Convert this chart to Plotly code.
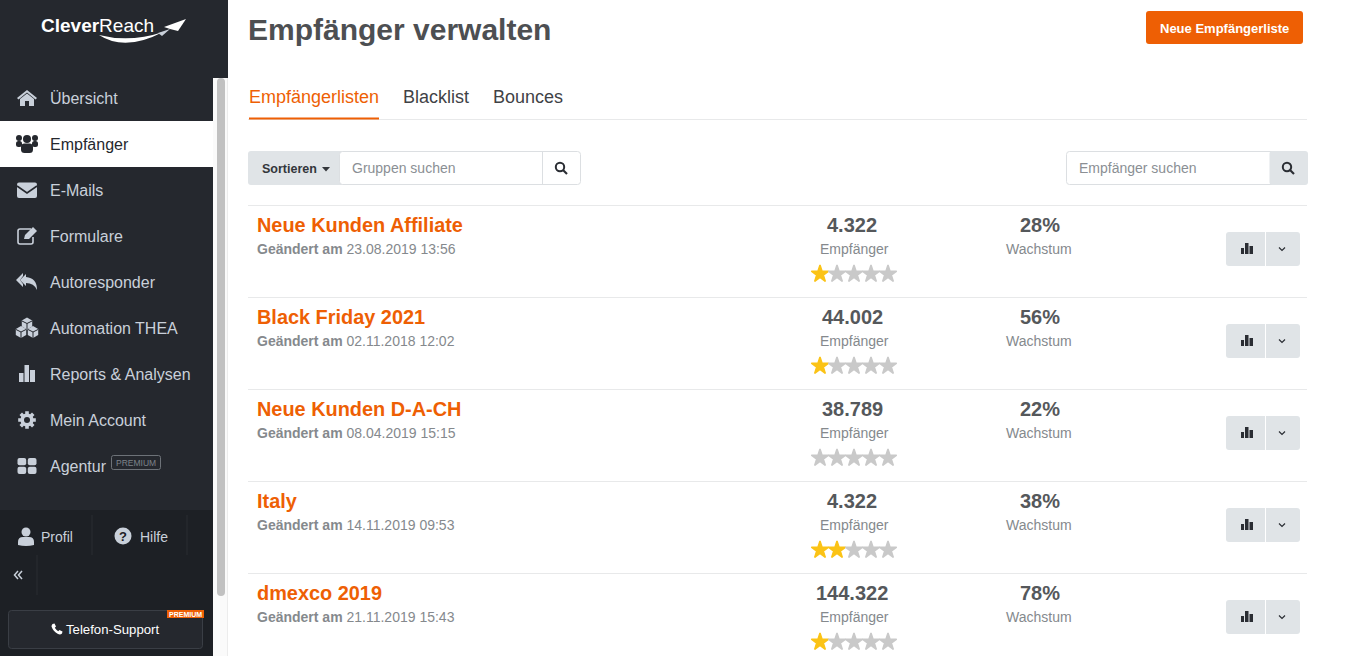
"""CleverReach recipient list screen rebuilt with Plotly shapes, text and markers."""

import math

import plotly.graph_objects as go

FONT = "Liberation Sans"
ORANGE = "#ee5f04"
DARK = "#25282e"
DARKER = "#1d2025"
NAV_TEXT = "#c9d0da"
GREY_BTN = "#e0e4e7"
BORDER = "#e8e9ea"
STAR_ON = "#fbc316"
STAR_OFF = "#c9c9c9"

# list data
list_names = ["Neue Kunden Affiliate", "Black Friday 2021", "Neue Kunden D-A-CH", "Italy", "dmexco 2019"]
changed_dates = ["23.08.2019 13:56", "02.11.2018 12:02", "08.04.2019 15:15", "14.11.2019 09:53", "21.11.2019 15:43"]
recipients = ["4.322", "44.002", "38.789", "4.322", "144.322"]
growth = ["28%", "56%", "22%", "38%", "78%"]
stars = [1, 1, 0, 2, 1]

nav_items = ["Übersicht", "Empfänger", "E-Mails", "Formulare", "Autoresponder",
             "Automation THEA", "Reports & Analysen", "Mein Account", "Agentur"]
tabs = ["Empfängerlisten", "Blacklist", "Bounces"]
tab_x = [248, 401.5, 492]

shapes = []
annotations = []


def rect(x0, y0, x1, y1, fill, line=None, width=1):
    shapes.append(dict(type="rect", x0=x0, y0=y0, x1=x1, y1=y1, fillcolor=fill,
                       line=dict(color=line or fill, width=width if line else 0)))


def rrect_path(x0, y0, x1, y1, r):
    return (f"M{x0+r},{y0} L{x1-r},{y0} Q{x1},{y0} {x1},{y0+r} L{x1},{y1-r} Q{x1},{y1} {x1-r},{y1} "
            f"L{x0+r},{y1} Q{x0},{y1} {x0},{y1-r} L{x0},{y0+r} Q{x0},{y0} {x0+r},{y0} Z")


def rrect(x0, y0, x1, y1, r, fill, line=None, width=1):
    path(rrect_path(x0, y0, x1, y1, r), fill, line, width)


def path(d, fill="rgba(0,0,0,0)", line=None, width=1):
    shapes.append(dict(type="path", path=d, fillcolor=fill,
                       line=dict(color=line or "rgba(0,0,0,0)", width=width if line else 0)))


def poly(points, fill):
    d = "M" + " L".join(f"{x:.1f},{y:.1f}" for x, y in points) + " Z"
    path(d, fill)


def circle(cx, cy, r, fill, line=None, width=1):
    shapes.append(dict(type="circle", x0=cx - r, y0=cy - r, x1=cx + r, y1=cy + r, fillcolor=fill,
                       line=dict(color=line or fill, width=width if line else 0)))


def text(x, y, s, size, color, anchor="left", bold=False):
    annotations.append(dict(x=x, y=y, xref="x", yref="y", text=f"<b>{s}</b>" if bold else s,
                            showarrow=False, xanchor=anchor, yanchor="middle", borderpad=0,
                            font=dict(family=FONT, size=size, color=color)))


def search_icon(cx, cy, color="#2a2d33"):
    circle(cx - 1, cy - 1, 4.2, "rgba(0,0,0,0)", color, 2)
    path(f"M{cx+2},{cy+2} L{cx+6},{cy+6}", line=color, width=2.2)


def icon_house(cx, cy, c):
    poly([(cx - 10, cy), (cx, cy - 8), (cx + 10, cy), (cx + 8.5, cy + 1.5), (cx, cy - 5.5), (cx - 8.5, cy + 1.5)], c)
    poly([(cx - 7, cy + 1), (cx, cy - 4.5), (cx + 7, cy + 1), (cx + 7, cy + 8), (cx + 2, cy + 8), (cx + 2, cy + 3),
          (cx - 2, cy + 3), (cx - 2, cy + 8), (cx - 7, cy + 8)], c)


def icon_users(cx, cy, c):
    for dx, dy, r in [(-8, -6, 3), (8, -6, 3), (0, -5, 4)]:
        circle(cx + dx, cy + dy, r, c)
    rrect(cx - 11, cy - 3, cx - 5, cy + 3, 2.5, c)
    rrect(cx + 5, cy - 3, cx + 11, cy + 3, 2.5, c)
    rrect(cx - 6, cy - 0.5, cx + 6, cy + 9, 3.5, c)


def icon_mail(cx, cy, c):
    rrect(cx - 10, cy - 7.5, cx + 10, cy + 8, 2, c)
    path(f"M{cx-10},{cy-4} L{cx},{cy+3} L{cx+10},{cy-4}", line=DARK, width=1.6)


def icon_form(cx, cy, c):
    path(f"M{cx+4},{cy-7} L{cx-7},{cy-7} Q{cx-9},{cy-7} {cx-9},{cy-5} L{cx-9},{cy+6} Q{cx-9},{cy+8} {cx-7},{cy+8} "
         f"L{cx+4},{cy+8} Q{cx+6},{cy+8} {cx+6},{cy+6} L{cx+6},{cy+1}", line=c, width=1.6)
    poly([(cx - 3, cy + 3), (cx - 2, cy - 1), (cx + 6, cy - 9), (cx + 10, cy - 5), (cx + 2, cy + 3)], c)


def icon_reply(cx, cy, c):
    poly([(cx - 11, cy - 2), (cx - 4, cy - 9), (cx - 4, cy - 6), (cx - 7, cy - 2), (cx - 4, cy + 2), (cx - 4, cy + 5)], c)
    path(f"M{cx-7},{cy-2} L{cx-1},{cy-8} L{cx-1},{cy-5} Q{cx+10},{cy-4} {cx+10},{cy+8} "
         f"Q{cx+7},{cy+1} {cx-1},{cy+1} L{cx-1},{cy+4} Z", c)


def hexagon(cx, cy, r, c):
    poly([(cx + r * math.cos(math.radians(30 + 60 * i)), cy + r * math.sin(math.radians(30 + 60 * i)))
          for i in range(6)], c)


def icon_cubes(cx, cy, c):
    hexagon(cx, cy - 4.5, 6, c)
    hexagon(cx - 6, cy + 4, 6, c)
    hexagon(cx + 6, cy + 4, 6, c)
    path(f"M{cx-5},{cy-7} L{cx},{cy-4.5} L{cx+5},{cy-7} M{cx},{cy-4.5} L{cx},{cy+1}", line=DARK, width=1)
    path(f"M{cx-11},{cy+1.5} L{cx-6},{cy+4} L{cx-1},{cy+1.5} M{cx-6},{cy+4} L{cx-6},{cy+10}", line=DARK, width=1)
    path(f"M{cx+1},{cy+1.5} L{cx+6},{cy+4} L{cx+11},{cy+1.5} M{cx+6},{cy+4} L{cx+6},{cy+10}", line=DARK, width=1)


def icon_bars(cx, cy, c):
    rect(cx - 8, cy - 1, cx - 3.5, cy + 8, c)
    rect(cx - 2.5, cy - 9, cx + 2, cy + 8, c)
    rect(cx + 3, cy - 4, cx + 8, cy + 8, c)


def icon_gear(cx, cy, c):
    pts = []
    for i in range(8):
        a = i * math.pi / 4
        for da, r in [(-0.28, 6.6), (-0.2, 9), (0.2, 9), (0.28, 6.6)]:
            pts.append((cx + r * math.cos(a + da), cy + r * math.sin(a + da)))
    poly(pts, c)
    circle(cx, cy, 3, DARK)


def icon_grid(cx, cy, c):
    rrect(cx - 9.5, cy - 8, cx - 0.8, cy - 0.8, 2, c)
    rrect(cx + 0.8, cy - 8, cx + 9.5, cy - 0.8, 2, c)
    rrect(cx - 9.5, cy + 0.8, cx - 0.8, cy + 8, 2, c)
    rrect(cx + 0.8, cy + 0.8, cx + 9.5, cy + 8, 2, c)


def icon_phone(cx, cy, c):
    path(f"M{cx-4.5},{cy-5} L{cx-2.5},{cy-5.5} L{cx-1},{cy-2.5} L{cx-2.2},{cy-1.2} Q{cx-0.8},{cy+1} {cx+1.2},{cy+2.2} "
         f"L{cx+2.5},{cy+1} L{cx+5.5},{cy+2.5} L{cx+5},{cy+4.5} Q{cx+3.5},{cy+6} {cx+1},{cy+5} "
         f"Q{cx-4},{cy+2} {cx-5.5},{cy-2.5} Q{cx-5.5},{cy-4} {cx-4.5},{cy-5} Z", c)


def small_bars(cx, cy, c):
    rect(cx - 6, cy - 1, cx - 3, cy + 5, c)
    rect(cx - 2, cy - 6, cx + 1.5, cy + 5, c)
    rect(cx + 2.5, cy - 3, cx + 6, cy + 5, c)


# sidebar background
rect(0, 0, 228, 78, DARK)
rect(0, 78, 213, 656, DARK)
rect(0, 510, 213, 656, DARKER)
rect(213, 78, 228, 656, "#fafafa")
rect(227, 78, 228, 656, "#ececec")
rrect(217, 78, 225, 596, 4, "#c1c1c1")

# logo
text(40, 25, "<b>Clever</b>Reach", 19, "#ffffff")
path("M99,35 Q125,52 163,32 Q130,43 99,35 Z", "#ffffff")
poly([(164, 27), (186, 19), (178, 31), (170, 29)], "#ffffff")
poly([(158, 33), (170, 29), (162, 36)], "#c9d0da")

# nav
nav_icons = [icon_house, icon_users, icon_mail, icon_form, icon_reply, icon_cubes, icon_bars, icon_gear, icon_grid]
rect(0, 121, 213, 167, "#ffffff")
for i, (item, icon) in enumerate(zip(nav_items, nav_icons)):
    y = 98 + 46 * i
    active = i == 1
    icon(27, y, "#25282e" if active else NAV_TEXT)
    text(49, y, item, 16, "#25282e" if active else NAV_TEXT)
rrect(111.5, 455.5, 160.5, 469.5, 2, "rgba(0,0,0,0)", "#6d7278", 1)
text(136, 463, "PREMIUM", 8.5, "#7d838a", "center")

# sidebar footer
circle(26, 532, 4.5, NAV_TEXT)
path("M18,545 L18,542 Q18,537 23,537 L29,537 Q34,537 34,542 L34,545 Q26,547 18,545 Z", NAV_TEXT)
text(40, 537, "Profil", 14, NAV_TEXT)
circle(123, 536, 8.5, NAV_TEXT)
text(123, 536.5, "<b>?</b>", 13, DARKER, "center")
text(138.5, 537, "Hilfe", 14, NAV_TEXT)
for x0, y0, y1 in [(92, 515, 555), (187, 515, 555), (37, 555, 595)]:
    path(f"M{x0},{y0} L{x0},{y1}", line="#2a2d33", width=1)
path("M18,571 L14.5,575 L18,579 M22,571 L18.5,575 L22,579", line=NAV_TEXT, width=1.5)
rrect(8.5, 610.5, 202.5, 648.5, 3, DARK, "#3a3e45", 1)
icon_phone(57, 629, "#ffffff")
text(65, 629, "Telefon-Support", 13.2, "#ffffff")
rect(167, 610, 204, 618, ORANGE)
text(185.5, 614, "<b>PREMIUM</b>", 7, "#ffffff", "center")

# header
text(247, 29, "Empfänger verwalten", 30, "#4d4f52", bold=True)
rrect(1146, 11, 1303, 44, 3, ORANGE)
text(1224.5, 28, "Neue Empfängerliste", 13, "#ffffff", "center", bold=True)

# tabs
path("M248,119.5 L1307,119.5", line=BORDER, width=1)
for i, (tab, x) in enumerate(zip(tabs, tab_x)):
    text(x, 97, tab, 18, ORANGE if i == 0 else "#3f4246")
rect(249, 117.5, 379, 119.5, ORANGE)

# toolbar, group search
rrect(248, 151, 345, 185, 3, GREY_BTN)
text(261, 168.5, "Sortieren", 12.5, "#33363b", bold=True)
poly([(322, 167), (330, 167), (326, 171.5)], "#33363b")
rrect(339.5, 151.5, 580.5, 184.5, 3, "#ffffff", "#dcdfe2", 1)
path("M542.5,151.5 L542.5,184.5", line="#dcdfe2", width=1)
text(351, 168, "Gruppen suchen", 14, "#8b8f94")
search_icon(561, 168)

# toolbar, recipient search
rrect(1066.5, 151.5, 1275, 184.5, 3, "#ffffff", "#dcdfe2", 1)
rrect(1269.5, 151, 1308, 185, 3, GREY_BTN)
text(1078, 168, "Empfänger suchen", 14, "#8b8f94")
search_icon(1288, 168)

# list rows
star_x, star_y, star_color = [], [], []
for i, name in enumerate(list_names):
    top = 205 + 92 * i
    path(f"M248,{top+0.5} L1307,{top+0.5}", line=BORDER, width=1)
    text(256, top + 20, name, 19.9, ORANGE, bold=True)
    text(255.5, top + 44, f"<b>Geändert am</b> {changed_dates[i]}", 14, "#85898d")
    text(852, top + 20, recipients[i], 20, "#55585b", "center", bold=True)
    text(854, top + 44, "Empfänger", 14, "#85898d", "center")
    text(1039.5, top + 20, growth[i], 20, "#55585b", "center", bold=True)
    text(1039, top + 44, "Wachstum", 14, "#85898d", "center")
    rrect(1226, top + 27, 1300, top + 61, 3, GREY_BTN)
    path(f"M1265.5,{top+27} L1265.5,{top+61}", line="#ffffff", width=1)
    small_bars(1247, top + 44, "#2a2d33")
    path(f"M1279,{top+42.5} L1282,{top+45.5} L1285,{top+42.5}", line="#2a2d33", width=1.2)
    for s in range(5):
        star_x.append(820 + 17 * s)
        star_y.append(top + 69)
        star_color.append(STAR_ON if s < stars[i] else STAR_OFF)

fig = go.Figure(go.Scatter(x=star_x, y=star_y, mode="markers", hoverinfo="skip", showlegend=False,
                           marker=dict(symbol="star", size=13, color=star_color,
                                       line=dict(width=1.5, color=star_color))))
fig.update_layout(
    width=1348, height=656, margin=dict(l=0, r=0, t=0, b=0),
    paper_bgcolor="#ffffff", plot_bgcolor="#ffffff",
    xaxis=dict(range=[0, 1348], visible=False, fixedrange=True),
    yaxis=dict(range=[656, 0], visible=False, fixedrange=True),
    shapes=shapes, annotations=annotations,
)
fig.write_html("out.html", config={"displayModeBar": False},
               post_script="document.body.style.margin='0';document.body.style.overflow='hidden';")
